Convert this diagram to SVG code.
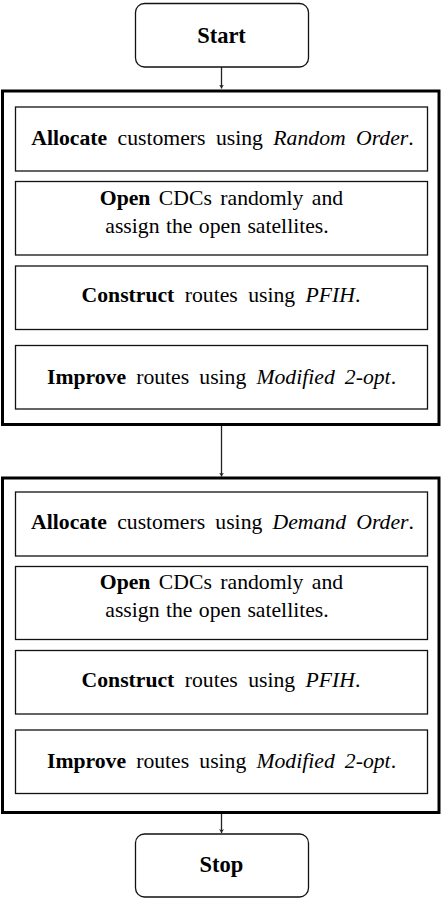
<svg xmlns="http://www.w3.org/2000/svg" width="441" height="898" viewBox="0 0 441 898">
  <style>
    text { font-family: "Liberation Serif", "Times New Roman", serif; font-size: 21.7px; fill: #000; text-anchor: middle; }
    .b { font-weight: bold; }
    .i { font-style: italic; }
    .tl { font-size: 22.5px; font-weight: bold; }
    .term { fill: #fff; stroke: #111; stroke-width: 1.3; }
    .stage { fill: #fff; stroke: #000; stroke-width: 3; }
    .step { fill: #fff; stroke: #111; stroke-width: 1.3; }
    .edge { stroke: #222; stroke-width: 1.3; fill: none; }
  </style>
  <defs>
    <marker id="arrow" viewBox="0 0 8 10" refX="8" refY="5" markerWidth="4" markerHeight="5" orient="auto" markerUnits="userSpaceOnUse">
      <path d="M0,0 L8,5 L0,10 L2.5,5 Z" fill="#222"/>
    </marker>
  </defs>

  <g id="connectors">
    <line class="edge" x1="221.5" y1="67" x2="221.5" y2="88.5" marker-end="url(#arrow)"/>
    <line class="edge" x1="221.5" y1="425.5" x2="221.5" y2="476.5" marker-end="url(#arrow)"/>
    <line class="edge" x1="221.5" y1="814" x2="221.5" y2="833" marker-end="url(#arrow)"/>
  </g>

  <g id="start">
    <rect class="term" x="135.5" y="3.5" width="173" height="63.5" rx="9"/>
    <text class="tl" x="221.5" y="43">Start</text>
  </g>

  <g id="stage-random">
    <rect class="stage" x="2.5" y="91" width="436.5" height="333.5"/>
    <g id="allocate-random">
      <rect class="step" x="15.5" y="107" width="412" height="64"/>
      <text x="222.5" y="145" word-spacing="5"><tspan class="b">Allocate</tspan> customers using <tspan class="i">Random Order</tspan>.</text>
    </g>
    <g id="open-random">
      <rect class="step" x="15.5" y="181.5" width="412" height="73.5"/>
      <text x="221.5" y="205" word-spacing="3"><tspan class="b">Open</tspan> CDCs randomly and</text>
      <text x="217" y="232.5" word-spacing="1">assign the open satellites.</text>
    </g>
    <g id="construct-random">
      <rect class="step" x="15.5" y="266" width="412" height="63.5"/>
      <text x="221" y="302" word-spacing="5"><tspan class="b">Construct</tspan> routes using <tspan class="i">PFIH</tspan>.</text>
    </g>
    <g id="improve-random">
      <rect class="step" x="15.5" y="345.5" width="412" height="63.5"/>
      <text x="221.5" y="384" word-spacing="4.7"><tspan class="b">Improve</tspan> routes using <tspan class="i">Modified 2-opt</tspan>.</text>
    </g>
  </g>

  <g id="stage-demand">
    <rect class="stage" x="2.5" y="478" width="436.5" height="334.5"/>
    <g id="allocate-demand">
      <rect class="step" x="15.5" y="492" width="412" height="64"/>
      <text x="222.5" y="528.5" word-spacing="4.8"><tspan class="b">Allocate</tspan> customers using <tspan class="i">Demand Order</tspan>.</text>
    </g>
    <g id="open-demand">
      <rect class="step" x="15.5" y="566.5" width="412" height="73"/>
      <text x="221.5" y="588.5" word-spacing="3"><tspan class="b">Open</tspan> CDCs randomly and</text>
      <text x="217" y="616.5" word-spacing="1">assign the open satellites.</text>
    </g>
    <g id="construct-demand">
      <rect class="step" x="15.5" y="650.5" width="412" height="63.5"/>
      <text x="221" y="686.5" word-spacing="5"><tspan class="b">Construct</tspan> routes using <tspan class="i">PFIH</tspan>.</text>
    </g>
    <g id="improve-demand">
      <rect class="step" x="15.5" y="730" width="412" height="63.5"/>
      <text x="221.5" y="767.5" word-spacing="4.7"><tspan class="b">Improve</tspan> routes using <tspan class="i">Modified 2-opt</tspan>.</text>
    </g>
  </g>

  <g id="stop">
    <rect class="term" x="135.5" y="834" width="173" height="63" rx="9"/>
    <text class="tl" x="221.5" y="871.5">Stop</text>
  </g>
</svg>
